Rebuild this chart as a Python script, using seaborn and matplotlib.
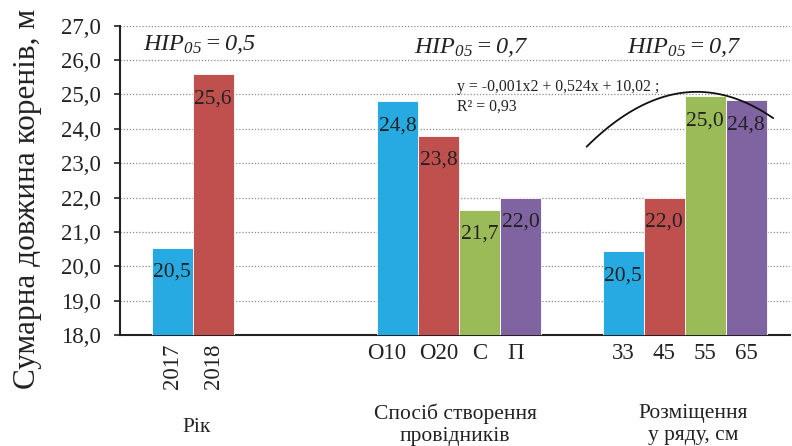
import matplotlib
matplotlib.use("Agg")
import matplotlib.pyplot as plt
import matplotlib.transforms as mtransforms
import numpy as np
import pandas as pd
import seaborn as sns

# ---------------- data ----------------
categories = ['2017', '2018', 'О10', 'О20', 'С', 'П', '33', '45', '55', '65']
group_names = ['Рік', 'Спосіб створення\nпровідників', 'Розміщення\nу ряду, см']
group_sizes = [2, 4, 4]
values = [20.54, 25.6, 24.8, 23.8, 21.65, 22.0, 20.45, 22.0, 24.96, 24.83]
value_labels = ['20,5', '25,6', '24,8', '23,8', '21,7', '22,0', '20,5', '22,0', '25,0', '24,8']
hip_labels = [r'$HIP_{05}=0{,}5$', r'$HIP_{05}=0{,}7$', r'$HIP_{05}=0{,}7$']
y_ticks = [18, 19, 20, 21, 22, 23, 24, 25, 26, 27]
y_tick_labels = ['18,0', '19,0', '20,0', '21,0', '22,0', '23,0', '24,0', '25,0', '26,0', '27,0']
# trend curve points (x in bar-slot units, y in metres)
trend_x = [10.11, 10.76, 11.58, 12.39, 12.88, 13.53, 14.17, 14.66]
trend_y = [23.58, 24.06, 24.64, 25.03, 25.18, 25.03, 24.64, 24.26]
equation = 'y = -0,001x2 + 0,524x + 10,02 ;\nR² = 0,93'

# ---------------- layout ----------------
group_starts = [0.0, 5.5, 11.0]
colour_keys = ['c0', 'c1', 'c2', 'c3']
palette = {'c0': '#27AAE1', 'c1': '#C0504D', 'c2': '#9BBB59', 'c3': '#8064A2'}
# small horizontal nudges (in bar widths) of individual tick labels, as in the original
tick_nudges = [0, 0, -0.27, 0, 0, -0.12, 0, 0, 0, 0]

positions, colours, group_centres = [], [], []
for start, n in zip(group_starts, group_sizes):
    pos = [start + i for i in range(n)]
    positions += pos
    colours += colour_keys[:n]
    group_centres.append(np.mean(pos))

df = pd.DataFrame({'pos': positions, 'value': values, 'colour': colours, 'cat': categories})

sns.set_theme(style='white')
plt.rcParams['font.family'] = ['Liberation Serif', 'DejaVu Serif']
plt.rcParams['mathtext.fontset'] = 'custom'
plt.rcParams['mathtext.it'] = 'Liberation Serif:italic'
plt.rcParams['mathtext.rm'] = 'Liberation Serif:italic'

fig = plt.figure(figsize=(7.92, 4.46), dpi=100)
ax = fig.add_axes([120 / 792, 1 - 335 / 446, (790 - 120) / 792, (335 - 25.7) / 446])

sns.barplot(data=df, x='pos', y='value', hue='colour', palette=palette,
            native_scale=True, dodge=False, width=1.0, saturation=1,
            edgecolor='white', linewidth=0.6, legend=False, ax=ax, zorder=3)

sns.regplot(x=trend_x, y=trend_y, order=2, ci=None, scatter=False,
            line_kws=dict(color='#111111', lw=1.3, zorder=5), ax=ax)

ax.set_ylim(18, 27)
ax.set_xlim(-1.27, 15.07)
ax.set_yticks(y_ticks)
ax.set_yticklabels(y_tick_labels, fontsize=16.5, color='#222222')
ax.set_xticks([p + d for p, d in zip(positions, tick_nudges)])
ax.set_xticklabels(categories, fontsize=16.5, color='#222222')
for lbl in ax.get_xticklabels()[:2]:
    lbl.set_rotation(90)
ax.tick_params(axis='x', length=0, pad=6)
ax.tick_params(axis='y', length=4, width=1.2, direction='out', color='#222222', left=True, pad=10)

ax.set_axisbelow(True)
ax.yaxis.grid(True, linestyle=(0, (1, 1.5)), color='#8a8a8a', lw=0.9)
ax.xaxis.grid(False)
for s in ['top', 'right']:
    ax.spines[s].set_visible(False)
for s in ['left', 'bottom']:
    ax.spines[s].set_color('#222222')
    ax.spines[s].set_linewidth(1.5)

ax.set_xlabel('')
ax.set_ylabel('Сумарна довжина коренів, м', fontsize=22.5, color='#222222')
ax.yaxis.set_label_coords((28 - 120) / 670, (335 - 198.5) / 309.3)
ax.yaxis.label.set_va('center')

# value labels
for x, v, t in zip(positions, values, value_labels):
    ax.annotate(t, (x, v), xytext=(0, -11), textcoords='offset points',
                ha='center', va='top', fontsize=15.5, color='#222222', zorder=6)

# HIP texts
hip_offsets = [0.18, 0.3, 0.0]
hip_y = [26.29, 26.2, 26.2]
for gc, t, dx, yy in zip(group_centres, hip_labels, hip_offsets, hip_y):
    ax.text(gc + dx, yy, t, ha='center', va='baseline', fontsize=17.5, color='#222222')

# equation
ax.text(6.96, 24.92, equation, ha='left', va='center', fontsize=11.3,
        color='#222222', linespacing=1.3)

# group labels
trans = mtransforms.blended_transform_factory(ax.transData, ax.transAxes)
g_offsets = [0.1, -0.1, 0.2]
g_y = [-0.30, -0.29, -0.29]
for gc, name, dx, yy in zip(group_centres, group_names, g_offsets, g_y):
    ax.text(gc + dx, yy, name, transform=trans, ha='center', va='center',
            fontsize=15.5, color='#222222', linespacing=1.2)

fig.savefig('out.png', dpi=100)
